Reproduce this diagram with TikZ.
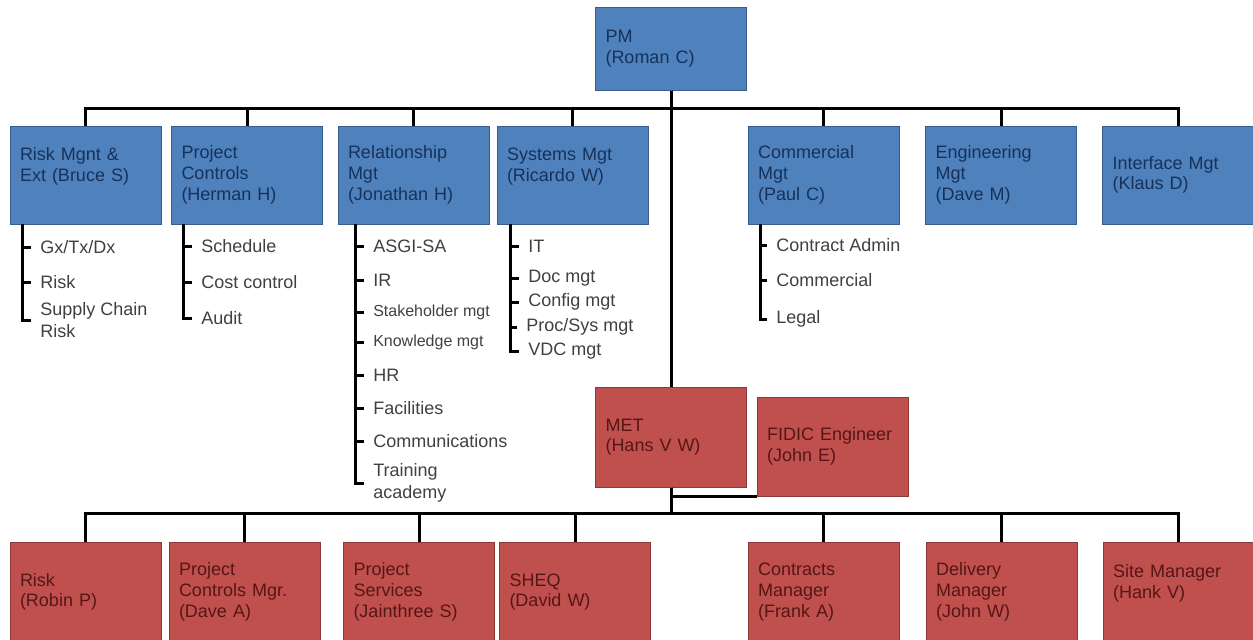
\documentclass[tikz,border=0pt]{standalone}
\usepackage{fontspec}
\setmainfont{Liberation Sans}
\definecolor{mgtblue}{RGB}{79,129,189}
\definecolor{mgtblueline}{RGB}{56,93,138}
\definecolor{mgtbluetext}{RGB}{22,50,90}
\definecolor{metred}{RGB}{192,80,77}
\definecolor{metredline}{RGB}{140,56,54}
\definecolor{metredtext}{RGB}{85,22,22}
\definecolor{listgrey}{RGB}{64,64,64}

\begin{document}
\begin{tikzpicture}[x=0.75pt, y=-0.75pt,
boxstyle/.style={line width=0.75pt, inner xsep=7.5pt, inner ysep=0pt, text width=98.25pt,
  minimum height=73.5pt, align=left, font=\fontsize{13.5}{15.5}\selectfont},
mgtbox/.style={boxstyle, draw=mgtblueline, fill=mgtblue, text=mgtbluetext},
metbox/.style={boxstyle, draw=metredline, fill=metred, text=metredtext, minimum height=75pt},
listitem/.style={anchor=west, inner xsep=6.75pt, inner ysep=0pt, align=left, text=listgrey,
  font=\fontsize{13.5}{16}\selectfont},
smallitem/.style={listitem, font=\fontsize{12}{14}\selectfont},
link/.style={line width=2.25pt}
]
\useasboundingbox (0,0) rectangle (1253,639);

\node[mgtbox, minimum height=62.25pt] (pm) at (671,48.5) {PM\\(Roman C)};

\node[mgtbox] (risk) at (85.5,175) {Risk Mgnt \&\\Ext (Bruce S)\\~};
\node[mgtbox] (ctrl) at (247,175) {Project\\Controls\\(Herman H)};
\node[mgtbox] (rel)  at (413.5,175) {Relationship\\Mgt\\(Jonathan H)};
\node[mgtbox] (sys)  at (572.5,175) {Systems Mgt\\(Ricardo W)\\~};
\node[mgtbox] (comm) at (823.5,175) {Commercial\\Mgt\\(Paul C)};
\node[mgtbox] (eng)  at (1001,175) {Engineering\\Mgt\\(Dave M)};
\node[mgtbox] (intf) at (1178,175) {Interface Mgt\\(Klaus D)};

\node[metbox] (met) at (671,437) {MET\\(Hans V W)};
\node[metbox, minimum height=74.25pt] (fidic) at (832.5,446.5) {FIDIC Engineer\\(John E)};

\node[metbox] (brisk) at (85.5,592) {Risk\\(Robin P)};
\node[metbox] (bctrl) at (244.5,592) {Project\\Controls Mgr.\\(Dave A)};
\node[metbox] (bserv) at (419,592) {Project\\Services\\(Jainthree S)};
\node[metbox] (sheq)  at (575,592) {SHEQ\\(David W)};
\node[metbox] (contr) at (823.5,592) {Contracts\\Manager\\(Frank A)};
\node[metbox] (deliv) at (1001.5,592) {Delivery\\Manager\\(John W)};
\node[metbox] (site)  at (1178.5,592) {Site Manager\\(Hank V)\\~};

% lists under the managers
\node[listitem] (gx)  at (31,247) {Gx/Tx/Dx};
\node[listitem] (rk)  at (31,282) {Risk};
\node[listitem] (scr) at (31,320) {Supply Chain\\Risk};

\node[listitem] (sched) at (192,246) {Schedule};
\node[listitem] (cost)  at (192,282) {Cost control};
\node[listitem] (audit) at (192,318) {Audit};

\node[listitem]  (asgi)  at (364,246) {ASGI-SA};
\node[listitem]  (ir)    at (364,280) {IR};
\node[smallitem] (stake) at (364,312) {Stakeholder mgt};
\node[smallitem] (know)  at (364,342) {Knowledge mgt};
\node[listitem]  (hr)    at (364,375) {HR};
\node[listitem]  (fac)   at (364,408) {Facilities};
\node[listitem]  (comms) at (364,441) {Communications};
\node[listitem]  (train) at (364,483) {Training\\academy};

\node[listitem] (it)   at (519,246) {IT};
\node[listitem] (doc)  at (519,278) {Doc mgt};
\node[listitem] (conf) at (519,302) {Config mgt};
\node[listitem] (proc) at (517,327) {Proc/Sys mgt};
\node[listitem] (vdc)  at (519,351) {VDC mgt};

\node[listitem] (cadm)  at (767,245) {Contract Admin};
\node[listitem] (cmrc)  at (767,280) {Commercial};
\node[listitem] (legal) at (767,319) {Legal};

% reporting lines
\draw[link] (pm.south) -- (met.north);
\foreach \n in {risk,ctrl,rel,sys,comm,eng,intf}
  \draw[link] (pm.south) -- ++(0,18) -| (\n.north);
\foreach \n in {brisk,bctrl,bserv,sheq,contr,deliv,site}
  \draw[link] (met.south) -- ++(0,26) -| (\n.north);
\draw[link] (fidic.south west) -- (fidic.south west -| met.south);

% list brackets
\coordinate (riskbr) at (22,224);
\coordinate (ctrlbr) at (183,224);
\coordinate (relbr)  at (355,224);
\coordinate (sysbr)  at (510,224);
\coordinate (commbr) at (760,224);
\draw[link] (riskbr) |- (scr.west);
\foreach \i in {gx,rk} \draw[link] (riskbr |- \i.west) -- (\i.west);
\draw[link] (ctrlbr) |- (audit.west);
\foreach \i in {sched,cost} \draw[link] (ctrlbr |- \i.west) -- (\i.west);
\draw[link] (relbr) |- (train.west);
\foreach \i in {asgi,ir,stake,know,hr,fac,comms} \draw[link] (relbr |- \i.west) -- (\i.west);
\draw[link] (sysbr) |- (vdc.west);
\foreach \i in {it,doc,conf,proc} \draw[link] (sysbr |- \i.west) -- (\i.west);
\draw[link] (commbr) |- (legal.west);
\foreach \i in {cadm,cmrc} \draw[link] (commbr |- \i.west) -- (\i.west);
\end{tikzpicture}
\end{document}
